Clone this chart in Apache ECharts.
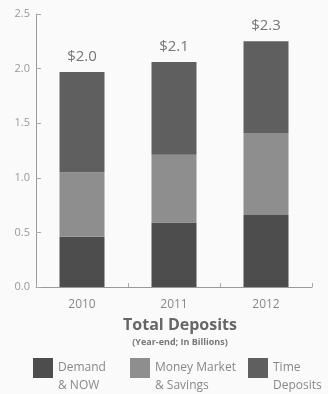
<!DOCTYPE html>
<html>
<head>
<meta charset="utf-8">
<script src="https://cdn.jsdelivr.net/npm/echarts@6/dist/echarts.min.js"></script>
<style>
  html, body { margin: 0; padding: 0; background: #fafafa; }
  #chart { width: 328px; height: 394px; }
</style>
</head>
<body>
<div id="chart"></div>
<script>
var years = ['2010', '2011', '2012'];
var demandNow = [0.46, 0.59, 0.66];
var moneyMarket = [0.59, 0.62, 0.75];
var timeDeposits = [0.92, 0.85, 0.84];
var totalLabels = ['$2.0', '$2.1', '$2.3'];

// leading blank line pushes the text down so the first line sits beside the icon
var legendNames = {
  'Demand & NOW': '\nDemand\n& NOW',
  'Money Market & Savings': '\nMoney Market\n& Savings',
  'Time Deposits': '\nTime\nDeposits'
};

var dom = document.getElementById('chart');
var chart = echarts.init(dom);

function legendAt(name, left) {
  return {
    data: [name],
    left: left,
    top: 341,
    itemWidth: 20,
    itemHeight: 20,
    itemGap: 0,
    padding: 0,
    selectedMode: false,
    icon: 'rect',
    formatter: function(n) { return legendNames[n]; },
    textStyle: { color: '#888', fontSize: 12, lineHeight: 18, fontFamily: 'Open Sans' }
  };
}

var option = {
  backgroundColor: '#fafafa',
  animation: false,
  title: {
    text: 'Total Deposits',
    subtext: '(Year-end; In Billions)',
    left: 175,
    textAlign: 'center',
    top: 312,
    itemGap: 5,
    textStyle: { color: '#666', fontSize: 16, fontWeight: 'bold', fontFamily: 'Open Sans' },
    subtextStyle: { color: '#777', fontSize: 9, fontWeight: 'bold', fontFamily: 'Open Sans' }
  },
  legend: [
    legendAt('Demand & NOW', 33),
    legendAt('Money Market & Savings', 130),
    legendAt('Time Deposits', 248)
  ],
  grid: { left: 36, top: 14, width: 276, height: 273, containLabel: false },
  xAxis: {
    type: 'category',
    data: years,
    axisLine: { lineStyle: { color: '#999', width: 1 } },
    axisTick: { show: true, inside: true, length: 4, lineStyle: { color: '#aaa' } },
    axisLabel: { color: '#888', fontSize: 12, margin: 12, fontFamily: 'Open Sans' }
  },
  yAxis: {
    type: 'value',
    min: 0,
    max: 2.5,
    interval: 0.5,
    splitLine: { show: false },
    axisLine: { show: true, lineStyle: { color: '#999', width: 1 } },
    axisTick: { show: true, inside: true, length: 5, lineStyle: { color: '#aaa' } },
    axisLabel: {
      color: '#999', fontSize: 11, margin: 6, fontFamily: 'Open Sans',
      formatter: function(v) { return v.toFixed(1); }
    }
  },
  series: [
    {
      name: 'Demand & NOW', type: 'bar', stack: 'dep', barWidth: 45,
      itemStyle: { color: '#4d4d4d' }, data: demandNow
    },
    {
      name: 'Money Market & Savings', type: 'bar', stack: 'dep', barWidth: 45,
      itemStyle: { color: '#8e8e8e' }, data: moneyMarket
    },
    {
      name: 'Time Deposits', type: 'bar', stack: 'dep', barWidth: 45,
      itemStyle: { color: '#5f5f5f' }, data: timeDeposits,
      label: {
        show: true, position: 'top', distance: 8,
        color: '#777', fontSize: 15, fontFamily: 'Open Sans',
        formatter: function(p) { return totalLabels[p.dataIndex]; }
      }
    }
  ]
};

chart.setOption(option);
</script>
</body>
</html>
